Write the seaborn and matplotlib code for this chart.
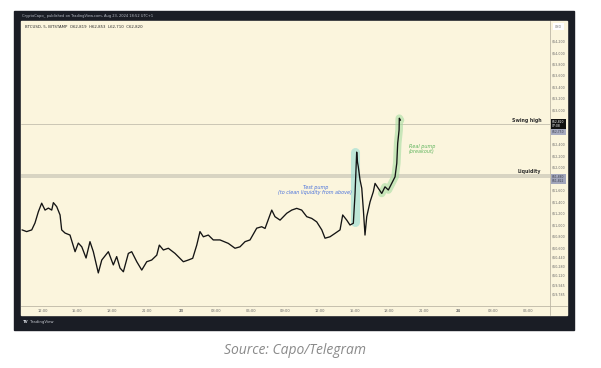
import numpy as np
import seaborn as sns
import matplotlib.pyplot as plt
from matplotlib.patches import Rectangle
from matplotlib.lines import Line2D
from matplotlib.transforms import blended_transform_factory

# BTCUSD 5m (Bitstamp), hours counted from 12:00 on Aug 22
hours = [-1.79, -1.39, -0.95, -0.67, -0.38, -0.09, 0.20, 0.49, 0.78, 0.92,
         1.21, 1.50, 1.64, 1.93, 2.36, 2.80, 3.08, 3.38, 3.75, 4.09,
         4.38, 4.81, 5.11, 5.68, 6.11, 6.40, 6.69, 6.98, 7.41, 7.70,
         8.14, 8.57, 9.00, 9.43, 9.87, 10.09, 10.44, 10.87, 11.45, 12.17,
         12.60, 12.98, 13.33, 13.61, 13.90, 14.33, 14.76, 15.34, 16.06, 16.64,
         17.07, 17.51, 17.94, 18.52, 18.95, 19.24, 19.82, 20.10, 20.54, 21.12,
         21.55, 21.98, 22.41, 22.85, 23.28, 23.71, 24.15, 24.43, 24.86, 25.30,
         25.73, 25.96, 26.31, 26.59, 26.88, 27.03, 27.17, 27.24, 27.31, 27.46,
         27.61, 27.75, 27.89, 28.04, 28.33, 28.61, 28.76, 29.04, 29.34, 29.62,
         29.91, 30.20, 30.49, 30.64, 30.72, 30.84, 30.86, 30.96]
prices = [60910, 60880, 60910, 61030, 61225, 61375, 61255, 61290, 61255, 61385,
          61315, 61170, 60910, 60855, 60820, 60530, 60680, 60615, 60420, 60705,
          60530, 60160, 60385, 60530, 60300, 60445, 60245, 60180, 60500, 60530,
          60355, 60210, 60355, 60385, 60470, 60645, 60560, 60590, 60500, 60355,
          60385, 60415, 60645, 60880, 60790, 60820, 60735, 60735, 60675, 60590,
          60615, 60705, 60735, 60940, 60965, 60935, 61255, 61140, 61080, 61200,
          61255, 61285, 61255, 61140, 61110, 61050, 60910, 60765, 60790, 60850,
          60910, 61170, 61080, 60995, 61025, 61545, 62265, 62090, 62010, 61780,
          61635, 61255, 60820, 61140, 61400, 61575, 61720, 61635, 61545, 61660,
          61605, 61720, 61835, 62070, 62420, 62650, 62855, 62820]

time_ticks = [0, 3, 6, 9, 12, 15, 18, 21, 24, 27, 30, 33, 36, 39, 42]
time_labels = ['12:00', '15:00', '18:00', '21:00', '23', '03:00', '06:00', '09:00',
               '12:00', '15:00', '18:00', '21:00', '24', '03:00', '06:00']
price_ticks = [64200, 64000, 63800, 63600, 63400, 63200, 63000, 62400, 62200, 62000,
               61600, 61400, 61200, 61000, 60800, 60600, 60440, 60280, 60120, 59945, 59785]

swing_high = 62750
liquidity_low, liquidity_high = 61822, 61880
last_close = 62820
test_pump_range = (61050, 62265)   # teal highlight
test_pump_hour = 27.03
breakout_from = 29.3               # green highlight starts here

CREAM = '#fbf5dd'
FRAME = '#1a1d25'

sns.set_style('white')
plt.rcParams['font.family'] = ['DejaVu Sans']

W, H = 601, 368
fig = plt.figure(figsize=(W / 100, H / 100), dpi=100, facecolor='white')


def fx(px):
    return px / W


def fy(py):
    return 1 - py / H


def box(x0, y0, x1, y1, color, z):
    fig.patches.append(Rectangle((fx(x0), fy(y1)), (x1 - x0) / W, (y1 - y0) / H,
                                 transform=fig.transFigure, color=color, zorder=z))


# screenshot frame (behind the axes)
box(14, 11, 574, 330, FRAME, -2)
box(21, 21, 567, 315, CREAM, -1)

ax = fig.add_axes([fx(21), fy(306), (550 - 21) / W, (306 - 21) / H])
ax.set_facecolor(CREAM)

# horizontal levels
ax.axhline(swing_high, color='#c4bfae', lw=0.6, zorder=1)
ax.axhspan(liquidity_low, liquidity_high, color='#d8d4c2', lw=0, zorder=1)

# highlights
ax.plot([test_pump_hour, test_pump_hour], test_pump_range, color='#96dcd3', alpha=0.6,
        lw=6.5, solid_capstyle='round', zorder=1.5)
hr = np.array(hours)
pr = np.array(prices)
sel = hr >= breakout_from
ax.plot(hr[sel], pr[sel], color='#a6dca2', alpha=0.6, lw=5.5,
        solid_capstyle='round', solid_joinstyle='round', zorder=1.5)

sns.lineplot(x=hours, y=prices, ax=ax, color='#141414', linewidth=0.95, zorder=3)

ax.set_xlim(-1.88, 43.9)
ax.set_ylim(59584, 64549)
ax.set_xlabel('')
ax.set_ylabel('')

ax.set_xticks(time_ticks)
ax.set_xticklabels(time_labels)
for t in ax.get_xticklabels():
    if ':' not in t.get_text():
        t.set_fontweight('bold')
ax.tick_params(axis='x', length=0, pad=2.2, labelsize=2.6, labelcolor='#6a6a6a')

ax.yaxis.tick_right()
ax.set_yticks(price_ticks)
ax.set_yticklabels([f'${v:,}' for v in price_ticks])
ax.tick_params(axis='y', length=0, pad=1.4, labelsize=2.3, labelcolor='#6a6a6a')

for s in ['top', 'left']:
    ax.spines[s].set_visible(False)
for s in ['right', 'bottom']:
    ax.spines[s].set_color('#bdb8a6')
    ax.spines[s].set_linewidth(0.6)
fig.add_artist(Line2D([fx(550), fx(550)], [fy(306), fy(315)], color='#bdb8a6', lw=0.6))
fig.add_artist(Line2D([fx(550), fx(567)], [fy(306), fy(306)], color='#bdb8a6', lw=0.6))

# level captions and pump notes
ax.text(43.2, swing_high + 15, 'Swing high', ha='right', va='bottom', fontsize=3.4,
        fontweight='bold', color='#2e2e2e')
ax.text(43.1, liquidity_high + 10, 'Liquidity', ha='right', va='bottom', fontsize=3.4,
        fontweight='bold', color='#2e2e2e')
ax.text(23.6, 61600, 'Test pump\n(to clean liquidity from above)', ha='center', va='center',
        fontsize=3.5, style='italic', color='#4a72dc', linespacing=1.0)
ax.text(31.7, 62320, 'Real pump\n(breakout)', ha='left', va='center', fontsize=3.5,
        style='italic', color='#5eb45d', linespacing=1.0)

# price scale badges
tr = blended_transform_factory(ax.transAxes, ax.transData)
ax.text(1.004, last_close - 60, f'${last_close:,}\n07:08', transform=tr, ha='left',
        va='center', fontsize=2.2, color='white', linespacing=1.0,
        bbox=dict(boxstyle='square,pad=0.35', fc='#111111', ec='none'))
ax.text(1.004, swing_high - 130, f'${swing_high:,}', transform=tr, ha='left', va='center',
        fontsize=2.2, color='#3a3d4a',
        bbox=dict(boxstyle='square,pad=0.35', fc='#a7abc0', ec='none'))
ax.text(1.004, (liquidity_low + liquidity_high) / 2 - 50,
        f'${liquidity_high:,}\n${liquidity_low:,}', transform=tr, ha='left', va='center',
        fontsize=2.2, color='#3a3d4a', linespacing=1.1,
        bbox=dict(boxstyle='square,pad=0.35', fc='#a2a6bb', ec='none'))

fig.text(fx(558.5), fy(26.5), 'USD', ha='center', va='center', fontsize=2.3, color='#777777',
         bbox=dict(boxstyle='square,pad=0.6', fc='white', ec='none'))

# header / footer of the screenshot
fig.text(fx(22), fy(16.3), 'CryptoCapo_ published on TradingView.com, Aug 23, 2024 18:52 UTC+1',
         ha='left', va='center', fontsize=2.6, color='#b9bdc7')
fig.text(fx(25), fy(27), 'BTCUSD, 5, BITSTAMP  O62,819  H62,853  L62,710  C62,820',
         ha='left', va='center', fontsize=2.8, color='#2a2a2a')
fig.text(fx(22.5), fy(322), 'TV', ha='left', va='center', fontsize=2.8, fontweight='bold',
         color='#d0d3da')
fig.text(fx(30), fy(322), 'TradingView', ha='left', va='center', fontsize=2.8, color='#c3c6cd')

fig.text(fx(295), fy(351), 'Source: Capo/Telegram', ha='center', va='center', fontsize=10,
         style='italic', color='#8a8a8a', family=['Open Sans', 'DejaVu Sans'])

fig.savefig('out.png', dpi=100, facecolor='white')
